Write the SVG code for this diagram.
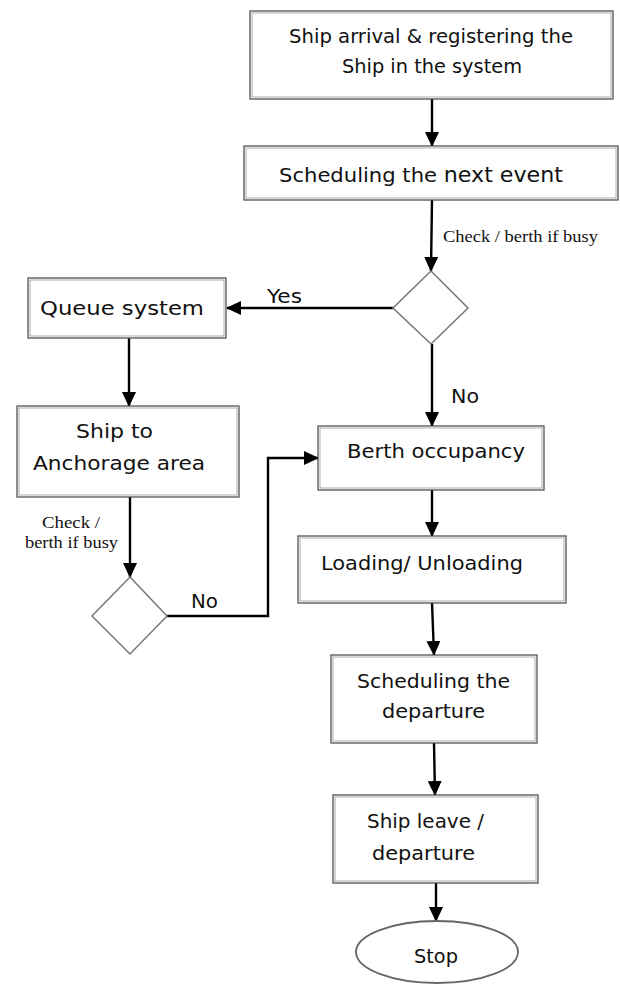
<svg xmlns="http://www.w3.org/2000/svg" width="620" height="985" viewBox="0 0 620 985">
<style>
.box{fill:#fff;stroke:#444;stroke-width:1.2}
.inner{fill:none;stroke:#999;stroke-width:0.8}
.dia{fill:#fff;stroke:#777;stroke-width:1.5}
.t{font-family:"DejaVu Sans","Liberation Sans",sans-serif;font-size:20px;fill:#111}
.s{font-family:"Liberation Serif","Times New Roman",serif;font-size:17px;fill:#111}
.c{fill:none;stroke:#000;stroke-width:2.4}
</style>
<defs>
<marker id="ah" markerUnits="userSpaceOnUse" markerWidth="16" markerHeight="14" refX="14" refY="7" orient="auto">
<path d="M0,0 L15,7 L0,14 z" fill="#000"/>
</marker>
</defs>
<rect width="620" height="985" fill="#fff"/>
<g id="connectors">
<path class="c" d="M432,99 L432,146" marker-end="url(#ah)"/>
<path class="c" d="M432,200 L431,271" marker-end="url(#ah)"/>
<path class="c" d="M393,308 L227,308" marker-end="url(#ah)"/>
<path class="c" d="M129,338 L129,406" marker-end="url(#ah)"/>
<path class="c" d="M130,497 L130,577" marker-end="url(#ah)"/>
<path class="c" d="M167,616 L268,616 L268,458 L318,458" marker-end="url(#ah)"/>
<path class="c" d="M432,344 L432,426" marker-end="url(#ah)"/>
<path class="c" d="M432,490 L432,536" marker-end="url(#ah)"/>
<path class="c" d="M432,603 L434,655" marker-end="url(#ah)"/>
<path class="c" d="M434,743 L435,795" marker-end="url(#ah)"/>
<path class="c" d="M436,883 L436,921" marker-end="url(#ah)"/>
<text class="s" x="443" y="242" textLength="155" lengthAdjust="spacingAndGlyphs">Check / berth if busy</text>
<text class="t" x="267" y="303" textLength="35" lengthAdjust="spacingAndGlyphs">Yes</text>
<text class="s" x="42" y="528" textLength="58" lengthAdjust="spacingAndGlyphs">Check /</text>
<text class="s" x="25" y="548" textLength="93" lengthAdjust="spacingAndGlyphs">berth if busy</text>
<text class="t" x="191" y="608" textLength="27" lengthAdjust="spacingAndGlyphs">No</text>
<text class="t" x="451" y="403" textLength="28" lengthAdjust="spacingAndGlyphs">No</text>
</g>
<g id="n1">
<rect class="box" x="250" y="11" width="363" height="88"/>
<rect class="inner" x="252" y="13" width="359" height="84"/>
<text class="t" x="289" y="43" textLength="284" lengthAdjust="spacingAndGlyphs">Ship arrival &amp; registering the</text>
<text class="t" x="342" y="73" textLength="180" lengthAdjust="spacingAndGlyphs">Ship in the system</text>
</g>
<g id="n2">
<rect class="box" x="244" y="146" width="374" height="54"/>
<rect class="inner" x="246" y="148" width="370" height="50"/>
<text class="t" x="279" y="182" textLength="284" lengthAdjust="spacingAndGlyphs">Scheduling the <tspan font-size="21">next event</tspan></text>
</g>
<g id="d1">
<polygon class="dia" points="431,271 468,308 431,344 393,308"/>
</g>
<g id="n3">
<rect class="box" x="28" y="278" width="198" height="60"/>
<rect class="inner" x="30" y="280" width="194" height="56"/>
<text class="t" x="40" y="315" font-size="22" textLength="164" lengthAdjust="spacingAndGlyphs">Queue system</text>
</g>
<g id="n4">
<rect class="box" x="17" y="406" width="222" height="91"/>
<rect class="inner" x="19" y="408" width="218" height="87"/>
<text class="t" x="76" y="438" textLength="77" lengthAdjust="spacingAndGlyphs">Ship to</text>
<text class="t" x="33" y="470" textLength="172" lengthAdjust="spacingAndGlyphs">Anchorage area</text>
</g>
<g id="d2">
<polygon class="dia" points="130,577 167,616 130,654 92,616"/>
</g>
<g id="n5">
<rect class="box" x="318" y="426" width="226" height="64"/>
<rect class="inner" x="320" y="428" width="222" height="60"/>
<text class="t" x="347" y="458" textLength="178" lengthAdjust="spacingAndGlyphs">Berth occupancy</text>
</g>
<g id="n6">
<rect class="box" x="298" y="536" width="268" height="67"/>
<rect class="inner" x="300" y="538" width="264" height="63"/>
<text class="t" x="321" y="570" textLength="202" lengthAdjust="spacingAndGlyphs">Loading/ Unloading</text>
</g>
<g id="n7">
<rect class="box" x="331" y="655" width="206" height="88"/>
<rect class="inner" x="333" y="657" width="202" height="84"/>
<text class="t" x="357" y="688" textLength="153" lengthAdjust="spacingAndGlyphs">Scheduling the</text>
<text class="t" x="382" y="718" textLength="103" lengthAdjust="spacingAndGlyphs">departure</text>
</g>
<g id="n8">
<rect class="box" x="333" y="795" width="205" height="88"/>
<rect class="inner" x="335" y="797" width="201" height="84"/>
<text class="t" x="367" y="828" textLength="117" lengthAdjust="spacingAndGlyphs">Ship leave /</text>
<text class="t" x="372" y="860" textLength="103" lengthAdjust="spacingAndGlyphs">departure</text>
</g>
<g id="stop">
<ellipse cx="437" cy="952" rx="81" ry="31" fill="#fff" stroke="#666" stroke-width="1.8"/>
<text class="t" x="414" y="963" textLength="44" lengthAdjust="spacingAndGlyphs">Stop</text>
</g>
</svg>
